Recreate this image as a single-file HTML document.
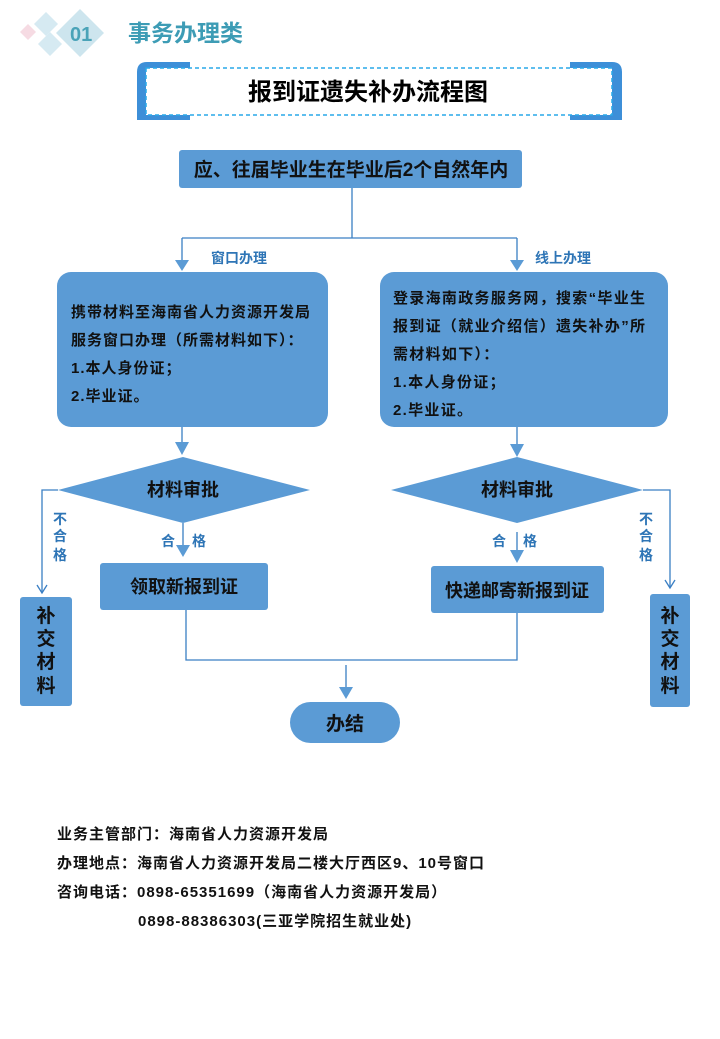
<!DOCTYPE html>
<html><head><meta charset="utf-8"><style>
html,body{margin:0;padding:0;background:#fff;}
svg{display:block;}
text{font-family:"Liberation Sans","Noto Sans CJK SC",sans-serif;font-weight:bold;}
</style></head><body>
<svg width="720" height="1039" viewBox="0 0 720 1039" xmlns="http://www.w3.org/2000/svg">
<!-- header deco -->
<polygon points="20,32 28,24 36,32 28,40" fill="#f6dbe3"/>
<polygon points="34,24 46,12 58,24 46,36" fill="#d6eaf2"/>
<polygon points="38,44 50,32 62,44 50,56" fill="#d6eaf2"/>
<polygon points="56,33 80,9 104,33 80,57" fill="#cde5ee"/>
<text x="70" y="41" font-size="20" fill="#4aa3b8">01</text>
<text x="128" y="41" font-size="23" fill="#3d9cb5">事务办理类</text>
<!-- title frame -->
<path d="M137,120 V72 Q137,62 147,62 H190 V120 Z" fill="#3d8fd8"/>
<path d="M622,120 V72 Q622,62 612,62 H570 V120 Z" fill="#3d8fd8"/>
<rect x="146" y="68" width="466" height="47" fill="#fff" stroke="#29a8e8" stroke-width="1.5" stroke-dasharray="4,3"/>
<text x="368" y="100" font-size="24" fill="#000" text-anchor="middle">报到证遗失补办流程图</text>
<!-- box1 -->
<rect x="179" y="150" width="343" height="38" rx="3" fill="#5b9bd5"/>
<text x="351" y="176" font-size="19" fill="#111" text-anchor="middle">应、往届毕业生在毕业后2个自然年内</text>
<g stroke="#3a7fc4" stroke-width="1.3" fill="none">
<path d="M352,188 V238 M182,238 H517"/>
<path d="M182,238 V262 M517,238 V262"/>
</g>
<polygon points="175,260 189,260 182,271" fill="#5b9bd5"/>
<polygon points="510,260 524,260 517,271" fill="#5b9bd5"/>
<text x="211" y="263" font-size="14" fill="#2e75b6">窗口办理</text>
<text x="535" y="263" font-size="14" fill="#2e75b6">线上办理</text>
<!-- big boxes -->
<rect x="57" y="272" width="271" height="155" rx="14" fill="#5b9bd5"/>
<g font-size="15" fill="#111" letter-spacing="1">
<text x="71" y="317">携带材料至海南省人力资源开发局</text>
<text x="71" y="345">服务窗口办理（所需材料如下）：</text>
<text x="71" y="373">1.本人身份证；</text>
<text x="71" y="401">2.毕业证。</text>
</g>
<rect x="380" y="272" width="288" height="155" rx="14" fill="#5b9bd5"/>
<g font-size="15" fill="#111" letter-spacing="1.3">
<text x="393" y="303">登录海南政务服务网，搜索“毕业生</text>
<text x="393" y="331">报到证（就业介绍信）遗失补办”所</text>
<text x="393" y="359">需材料如下）：</text>
<text x="393" y="387">1.本人身份证；</text>
<text x="393" y="415">2.毕业证。</text>
</g>
<g stroke="#3a7fc4" stroke-width="1.3"><path d="M182,427 V443 M517,427 V445"/></g>
<polygon points="175,442 189,442 182,455" fill="#5b9bd5"/>
<polygon points="510,444 524,444 517,457" fill="#5b9bd5"/>
<!-- diamonds -->
<polygon points="58,490 183,457 310,490 183,523" fill="#5b9bd5"/>
<polygon points="391,490 517,457 643,490 517,523" fill="#5b9bd5"/>
<text x="183" y="496" font-size="18" fill="#111" text-anchor="middle">材料审批</text>
<text x="517" y="496" font-size="18" fill="#111" text-anchor="middle">材料审批</text>
<!-- reject -->
<g stroke="#3a7fc4" stroke-width="1.3" fill="none">
<path d="M58,490 H42 V593"/><path d="M37,585 L42,593 L47,585"/>
<path d="M643,490 H670 V588"/><path d="M665,580 L670,588 L675,580"/>
<path d="M183,523 V548 M517,532 V552"/>
</g>
<g font-size="14" fill="#2e75b6" text-anchor="middle">
<text x="60" y="524">不</text><text x="60" y="541">合</text><text x="60" y="560">格</text>
<text x="646" y="524">不</text><text x="646" y="541">合</text><text x="646" y="560">格</text>
<text x="168" y="546">合</text><text x="199" y="546">格</text>
<text x="499" y="546">合</text><text x="530" y="546">格</text>
</g>
<polygon points="176,545 190,545 183,557" fill="#5b9bd5"/>
<polygon points="510,550 524,550 517,563" fill="#5b9bd5"/>
<rect x="20" y="597" width="52" height="109" rx="3" fill="#5b9bd5"/>
<rect x="650" y="594" width="40" height="113" rx="3" fill="#5b9bd5"/>
<g font-size="19" fill="#111" text-anchor="middle">
<text x="46" y="622">补</text><text x="46" y="645">交</text><text x="46" y="668">材</text><text x="46" y="692">料</text>
<text x="670" y="622">补</text><text x="670" y="645">交</text><text x="670" y="668">材</text><text x="670" y="692">料</text>
</g>
<!-- result boxes -->
<rect x="100" y="563" width="168" height="47" rx="3" fill="#5b9bd5"/>
<text x="184" y="593" font-size="18" fill="#111" text-anchor="middle">领取新报到证</text>
<rect x="431" y="566" width="173" height="47" rx="3" fill="#5b9bd5"/>
<text x="517" y="597" font-size="18" fill="#111" text-anchor="middle">快递邮寄新报到证</text>
<g stroke="#3a7fc4" stroke-width="1.3" fill="none">
<path d="M186,610 V660 H517 V613"/>
<path d="M346,665 V690"/>
</g>
<polygon points="339,687 353,687 346,699" fill="#5b9bd5"/>
<rect x="290" y="702" width="110" height="41" rx="20.5" fill="#5b9bd5"/>
<text x="345" y="730" font-size="19" fill="#111" text-anchor="middle">办结</text>
<!-- footer -->
<g font-size="15" fill="#111" letter-spacing="1">
<text x="57" y="839">业务主管部门：海南省人力资源开发局</text>
<text x="57" y="868">办理地点：海南省人力资源开发局二楼大厅西区9、10号窗口</text>
<text x="57" y="897">咨询电话：0898-65351699（海南省人力资源开发局）</text>
<text x="138" y="926">0898-88386303(三亚学院招生就业处)</text>
</g>
</svg>
</body></html>
